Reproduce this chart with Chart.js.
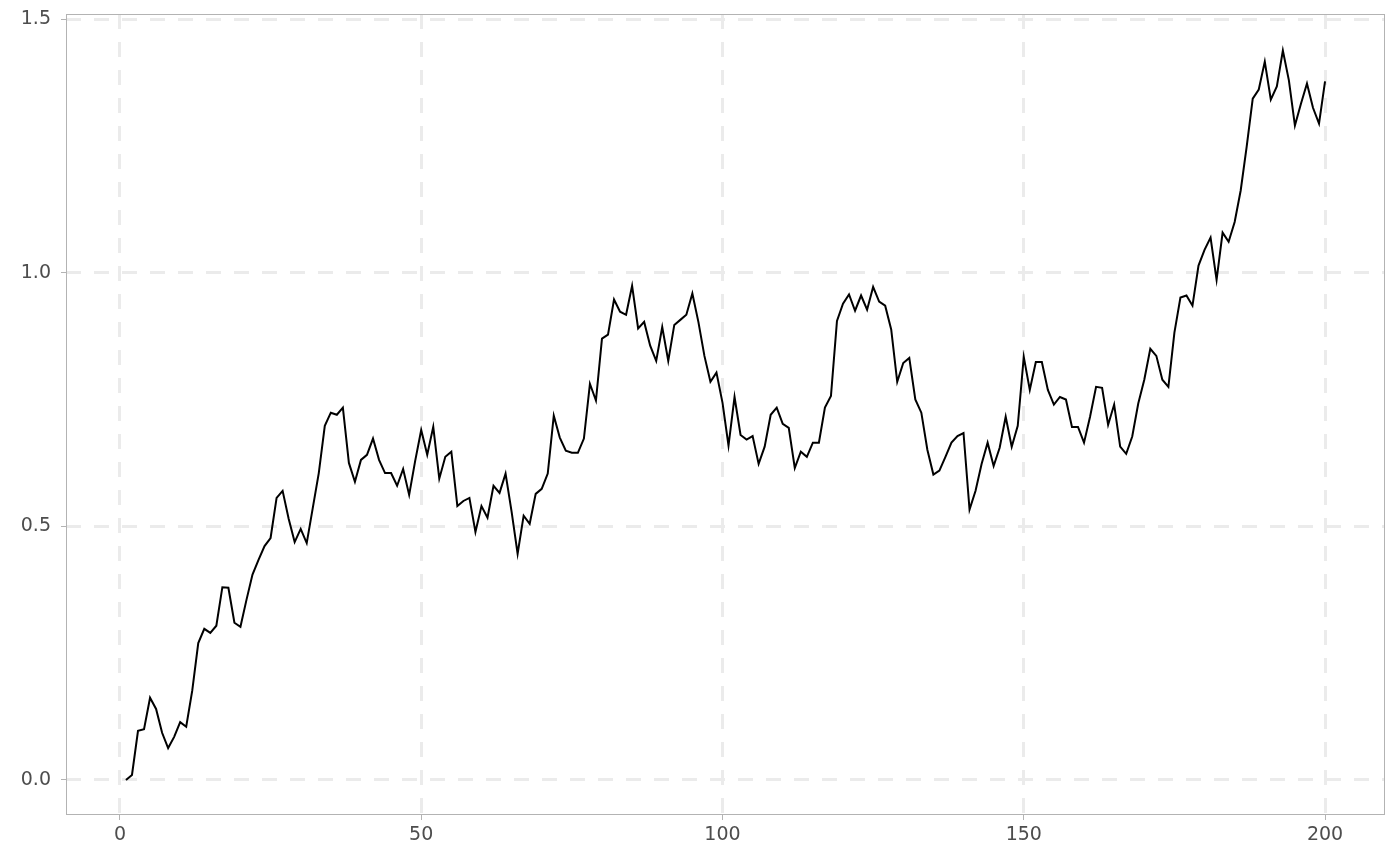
<!DOCTYPE html>
<html>
<head>
<meta charset="utf-8">
<script src="https://cdn.jsdelivr.net/npm/chart.js@4/dist/chart.umd.min.js"></script>
<style>
  html, body { margin: 0; padding: 0; background: #fff; }
  #wrap { width: 1400px; height: 866px; }
</style>
</head>
<body>
<div id="wrap"><canvas id="walk" width="1400" height="866"></canvas></div>
<script>
// step index of the walk
const steps = [];
for (let i = 1; i <= 200; i++) steps.push(i);

// walk values
const walkValues = [
  0.000, 0.010, 0.097, 0.100, 0.162, 0.140, 0.093, 0.063, 0.085, 0.114,
  0.105, 0.176, 0.270, 0.298, 0.290, 0.304, 0.380, 0.379, 0.310, 0.302,
  0.355, 0.405, 0.434, 0.461, 0.477, 0.556, 0.570, 0.515, 0.469, 0.495,
  0.467, 0.536, 0.605, 0.698, 0.724, 0.720, 0.734, 0.625, 0.588, 0.631,
  0.641, 0.673, 0.631, 0.605, 0.605, 0.580, 0.613, 0.562, 0.629, 0.690,
  0.641, 0.696, 0.594, 0.637, 0.647, 0.540, 0.550, 0.556, 0.489, 0.540,
  0.517, 0.580, 0.566, 0.604, 0.529, 0.446, 0.521, 0.505, 0.564, 0.574,
  0.604, 0.718, 0.675, 0.649, 0.645, 0.645, 0.673, 0.781, 0.748, 0.870,
  0.878, 0.947, 0.923, 0.917, 0.974, 0.890, 0.903, 0.856, 0.826, 0.893,
  0.826, 0.897, 0.907, 0.917, 0.959, 0.903, 0.836, 0.785, 0.803, 0.744,
  0.659, 0.755, 0.680, 0.671, 0.678, 0.623, 0.657, 0.720, 0.734, 0.702,
  0.694, 0.615, 0.647, 0.637, 0.665, 0.665, 0.734, 0.757, 0.905, 0.939,
  0.957, 0.925, 0.955, 0.927, 0.972, 0.943, 0.935, 0.888, 0.785, 0.822,
  0.832, 0.750, 0.724, 0.651, 0.602, 0.610, 0.637, 0.665, 0.678, 0.684,
  0.533, 0.570, 0.623, 0.665, 0.619, 0.655, 0.716, 0.657, 0.698, 0.834,
  0.769, 0.824, 0.824, 0.769, 0.740, 0.755, 0.750, 0.696, 0.696, 0.665,
  0.716, 0.775, 0.773, 0.700, 0.740, 0.657, 0.643, 0.677, 0.742, 0.789,
  0.850, 0.836, 0.789, 0.775, 0.882, 0.951, 0.955, 0.935, 1.014, 1.045,
  1.069, 0.986, 1.079, 1.061, 1.100, 1.162, 1.249, 1.343, 1.361, 1.416,
  1.341, 1.367, 1.438, 1.379, 1.290, 1.333, 1.373, 1.325, 1.294, 1.377
];

// tick positions
const xTicks = [0, 50, 100, 150, 200];
const yTicks = [0, 0.5, 1.0, 1.5];

const tickFont = {family: 'DejaVu Sans', size: 19};
const gridColor = '#ebebeb';
const frameColor = '#b3b3b3';

// draws the full panel frame like ggplot
const panelBorder = {
  id: 'panelBorder',
  afterDraw(chart) {
    const {ctx, chartArea: a} = chart;
    ctx.save();
    ctx.strokeStyle = frameColor;
    ctx.lineWidth = 1;
    ctx.strokeRect(a.left + 0.5, a.top + 0.5, a.right - a.left - 1, a.bottom - a.top - 1);
    ctx.restore();
  },
};

new Chart(document.getElementById('walk'), {
  type: 'line',
  data: {
    datasets: [{
      data: steps.map((s, i) => ({x: s, y: walkValues[i]})),
      borderColor: '#000000',
      borderWidth: 2,
      pointRadius: 0,
      tension: 0,
      fill: false,
    }],
  },
  options: {
    responsive: false,
    animation: false,
    layout: {padding: {left: 0, top: 14, right: 15, bottom: 0}},
    plugins: {legend: {display: false}, tooltip: {enabled: false}},
    scales: {
      x: {
        type: 'linear',
        min: -8.95,
        max: 209.95,
        afterBuildTicks: (axis) => { axis.ticks = xTicks.map((v) => ({value: v})); },
        afterFit: (axis) => {
          axis.height = 51;
          axis.paddingLeft = 0;
          axis.paddingRight = 0;
        },
        grid: {
          color: gridColor, lineWidth: 3,
          tickColor: frameColor, tickWidth: 1, tickLength: 5, tickBorderDash: [],
        },
        border: {display: false, dash: [15, 13]},
        ticks: {color: '#4d4d4d', font: tickFont, padding: 4, maxRotation: 0,
          callback: (v) => String(v)},
      },
      y: {
        type: 'linear',
        min: -0.069,
        max: 1.5099,
        afterBuildTicks: (axis) => { axis.ticks = yTicks.map((v) => ({value: v})); },
        afterFit: (axis) => {
          axis.width = 66;
          axis.paddingTop = 0;
          axis.paddingBottom = 0;
        },
        grid: {
          color: gridColor, lineWidth: 3,
          tickColor: frameColor, tickWidth: 1, tickLength: 5, tickBorderDash: [],
        },
        border: {display: false, dash: [15, 13]},
        ticks: {color: '#4d4d4d', font: tickFont, padding: 10,
          callback: (v) => Number(v).toFixed(1)},
      },
    },
  },
  plugins: [panelBorder],
});
</script>
</body>
</html>
